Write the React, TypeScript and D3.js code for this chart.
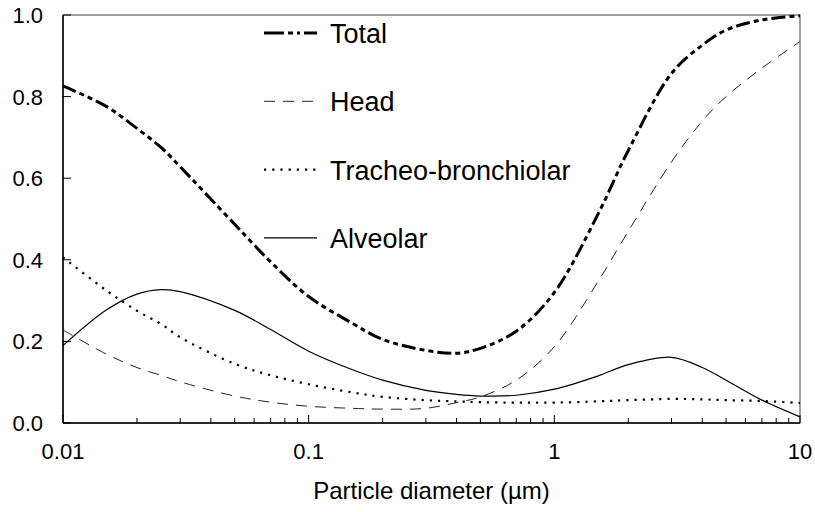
import React from 'react';
import * as d3 from 'd3';

// particle diameters (µm) and deposition fractions
const diameters = [0.01, 0.015, 0.02, 0.025, 0.03, 0.05, 0.07, 0.1, 0.15, 0.2, 0.3, 0.4, 0.5, 0.7, 1, 1.5, 2, 3, 4, 5, 7, 10];
const total = [0.826, 0.776, 0.722, 0.676, 0.628, 0.487, 0.395, 0.31, 0.245, 0.205, 0.178, 0.171, 0.183, 0.225, 0.32, 0.51, 0.668, 0.857, 0.926, 0.963, 0.988, 0.998];
const head = [0.228, 0.169, 0.136, 0.117, 0.101, 0.066, 0.051, 0.041, 0.036, 0.034, 0.036, 0.05, 0.064, 0.105, 0.187, 0.345, 0.47, 0.64, 0.74, 0.8, 0.87, 0.935];
const tracheo = [0.406, 0.325, 0.275, 0.243, 0.21, 0.145, 0.117, 0.095, 0.075, 0.064, 0.056, 0.053, 0.051, 0.05, 0.05, 0.053, 0.056, 0.059, 0.058, 0.056, 0.054, 0.049];
const alveolar = [0.19, 0.277, 0.316, 0.327, 0.322, 0.276, 0.229, 0.176, 0.131, 0.105, 0.08, 0.07, 0.066, 0.068, 0.083, 0.115, 0.143, 0.161, 0.136, 0.105, 0.056, 0.015];

const seriesNames = ['Total', 'Head', 'Tracheo-bronchiolar', 'Alveolar'];
const xTickLabels = ['0.01', '0.1', '1', '10'];
const yTickLabels = ['0.0', '0.2', '0.4', '0.6', '0.8', '1.0'];

const W = 815, H = 512;
const left = 63, right = 800, top = 15, bottom = 423;
const font = 'Liberation Sans, Arial, sans-serif';

const x = d3.scaleLog().domain([0.01, 10]).range([left, right]);
const y = d3.scaleLinear().domain([0, 1]).range([bottom, top]);

const styles = [
  { stroke: '#000', width: 3, dash: '14,4,5,4,5,4' },
  { stroke: '#222', width: 1, dash: '11,8' },
  { stroke: '#000', width: 2.2, dash: '2.2,6' },
  { stroke: '#000', width: 1.2, dash: '' },
];

export default function App() {
  const line = d3.line<number>()
    .x((_, i) => x(diameters[i]))
    .y(v => y(v))
    .curve(d3.curveCatmullRom.alpha(0.5));
  const series = [total, head, tracheo, alveolar];

  const minor: number[] = [];
  for (const dec of [0.01, 0.1, 1]) for (let k = 2; k <= 9; k++) minor.push(dec * k);

  return (
    <svg width={W} height={H} style={{ position: 'absolute', left: 0, top: 0, background: '#fff' }}>
      <rect x={left} y={top} width={right - left} height={bottom - top} fill="none" stroke="#444" strokeWidth={1} />
      {/* axes */}
      <line x1={left} x2={left} y1={top} y2={bottom} stroke="#000" strokeWidth={1.5} />
      <line x1={left} x2={right} y1={bottom} y2={bottom} stroke="#000" strokeWidth={1.5} />

      {yTickLabels.map(t => (
        <g key={t}>
          <line x1={left} x2={left + 8} y1={y(+t)} y2={y(+t)} stroke="#000" />
          <text x={43} y={y(+t) + 8} textAnchor="end" fontFamily={font} fontSize={22}>{t}</text>
        </g>
      ))}

      {xTickLabels.map(t => (
        <g key={t}>
          <line x1={x(+t)} x2={x(+t)} y1={bottom} y2={bottom - 8} stroke="#000" />
          <text x={x(+t)} y={459} textAnchor="middle" fontFamily={font} fontSize={22}>{t}</text>
        </g>
      ))}
      {minor.map(m => (
        <line key={m} x1={x(m)} x2={x(m)} y1={bottom} y2={bottom - 5} stroke="#000" />
      ))}

      <text x={(left + right) / 2} y={499} textAnchor="middle" fontFamily={font} fontSize={24}>Particle diameter (µm)</text>

      {series.map((s, i) => (
        <path key={i} d={line(s) || ''} fill="none" stroke={styles[i].stroke}
          strokeWidth={styles[i].width} strokeDasharray={styles[i].dash} />
      ))}

      {/* legend */}
      {seriesNames.map((name, i) => {
        const ly = 33 + i * 68.3;
        return (
          <g key={name}>
            <line x1={264} x2={317} y1={ly} y2={ly} stroke={styles[i].stroke}
              strokeWidth={styles[i].width} strokeDasharray={i === 0 ? '20,4,5,4,3,4' : styles[i].dash} />
            <text x={330} y={ly + 10} fontFamily={font} fontSize={27}>{name}</text>
          </g>
        );
      })}
    </svg>
  );
}
